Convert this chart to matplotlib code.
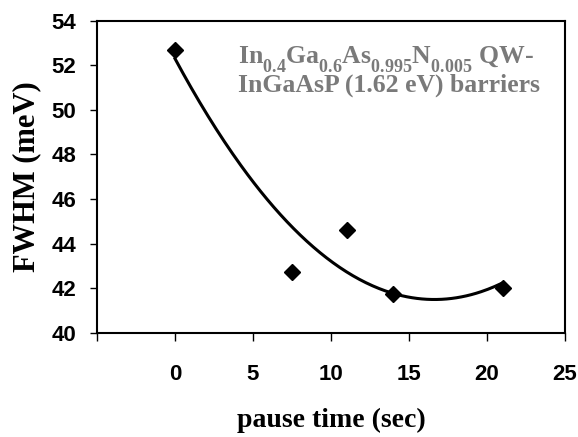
import numpy as np
import matplotlib
matplotlib.use("Agg")
import matplotlib.pyplot as plt

# data
pause_time = [0, 7.5, 11, 14, 21]
fwhm = [52.7, 42.75, 44.6, 41.75, 42.0]
x_ticks = [-5, 0, 5, 10, 15, 20, 25]
x_tick_labels = ["", "0", "5", "10", "15", "20", "25"]
y_ticks = [40, 42, 44, 46, 48, 50, 52, 54]
annot_line1 = r"In$_{0.4}$Ga$_{0.6}$As$_{0.995}$N$_{0.005}$ QW-"
annot_line2 = "InGaAsP (1.62 eV) barriers"

plt.rcParams["mathtext.fontset"] = "custom"
plt.rcParams["mathtext.rm"] = "Liberation Serif:bold"
plt.rcParams["mathtext.it"] = "Liberation Serif:bold"
plt.rcParams["mathtext.bf"] = "Liberation Serif:bold"
plt.rcParams["mathtext.default"] = "rm"

# lower subscripts a bit (as in the reference)
try:
    import matplotlib._mathtext as _mt
    _mt.FontConstantsBase.sub1 = 0.75
except Exception:
    pass

fig = plt.figure(figsize=(5.78, 4.37), dpi=100)
ax = fig.add_axes([97 / 578, 1 - 333 / 437, (565 - 97) / 578, (333 - 20.5) / 437])

# polynomial (order 2) trendline
coef = np.polyfit(pause_time, fwhm, 2)
xs = np.linspace(min(pause_time), max(pause_time), 200)
ax.plot(xs, np.polyval(coef, xs), color="black", lw=2.2, zorder=2)
ax.plot(pause_time, fwhm, linestyle="none", marker="D", ms=8.3,
        color="black", mec="black", mew=1, zorder=3)

ax.set_xlim(-5, 25)
ax.set_ylim(40, 54)
ax.set_xticks(x_ticks)
ax.set_xticklabels(x_tick_labels)
ax.set_yticks(y_ticks)

for s in ax.spines.values():
    s.set_linewidth(1.5)
    s.set_color("black")

ax.tick_params(axis="x", direction="out", length=6, width=1, pad=16,
               labelsize=16)
ax.tick_params(axis="y", direction="out", length=5, width=1, pad=10,
               labelsize=16)
for lab in ax.get_xticklabels() + ax.get_yticklabels():
    lab.set_fontfamily("Liberation Sans")
    lab.set_fontweight("bold")

ax.set_xlabel("pause time (sec)", family="Liberation Serif", weight="bold",
              fontsize=20, labelpad=17)
ax.set_ylabel("FWHM (meV)", family="Liberation Serif", weight="bold",
              fontsize=22, labelpad=7)

gray = "#7a7a7a"
ax.text(238 / 578, 1 - 63 / 437, annot_line1, transform=fig.transFigure,
        family="Liberation Serif", weight="bold", fontsize=18.5, color=gray,
        ha="left", va="baseline")
ax.text(238 / 578, 1 - 91.5 / 437, annot_line2, transform=fig.transFigure,
        family="Liberation Serif", weight="bold", fontsize=18.5, color=gray,
        ha="left", va="baseline")

fig.savefig("out.png", dpi=100, facecolor="white")
